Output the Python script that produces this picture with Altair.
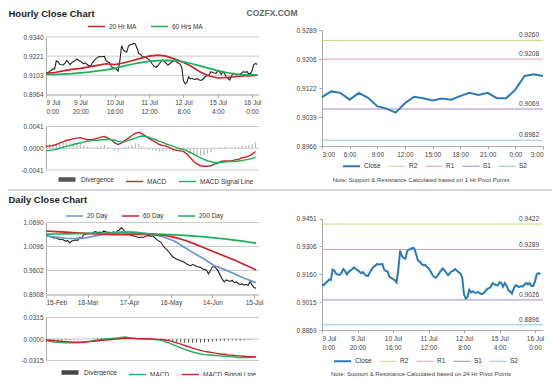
import json
import altair as alt
import pandas as pd

FONT = "Liberation Sans"
RED = "#c8262c"
GREEN = "#1fae5b"
BLUE20 = "#6a98cc"
CLOSE_BLUE = "#2a7ab9"
PIVOT_COLORS = ["#cfd47c", "#dba4ab", "#a38bc7", "#86cde4"]
GRID = "#cccccc"
AXIS = "#a8a8a8"
TXT = "#444444"

# ---------------- hourly data (9 Jul 0:00 ... 16 Jul 3:00, trading hours) ----------------
H_CLOSE = [
    0.9107, 0.9103, 0.9115, 0.9122, 0.9132, 0.9130, 0.9184, 0.9178, 0.9162, 0.9158,
    0.9157, 0.9168, 0.9187, 0.9176, 0.9159, 0.9172, 0.9180, 0.9186, 0.9196, 0.9188,
    0.9182, 0.9174, 0.9165, 0.9171, 0.9160, 0.9152, 0.9151, 0.9171, 0.9185, 0.9198,
    0.9205, 0.9213, 0.9211, 0.9212, 0.9213, 0.9185, 0.9177, 0.9174, 0.9146, 0.9141,
    0.9135, 0.9129, 0.9117, 0.9185, 0.9283, 0.9255, 0.9245, 0.9241, 0.9281, 0.9289,
    0.9292, 0.9298, 0.9294, 0.9266, 0.9233, 0.9226, 0.9215, 0.9207, 0.9209, 0.9200,
    0.9192, 0.9178, 0.9160, 0.9148, 0.9142, 0.9150, 0.9165, 0.9179, 0.9190, 0.9181,
    0.9168, 0.9155, 0.9165, 0.9175, 0.9179, 0.9187, 0.9178, 0.9170, 0.9163, 0.9142,
    0.9055, 0.9033, 0.9042, 0.9079, 0.9066, 0.9070, 0.9064, 0.9063, 0.9068, 0.9060,
    0.9056, 0.9061, 0.9072, 0.9083, 0.9087, 0.9093, 0.9113, 0.9108, 0.9104, 0.9102,
    0.9118, 0.9114, 0.9095, 0.9114, 0.9100, 0.9077, 0.9070, 0.9059, 0.9085, 0.9103,
    0.9099, 0.9093, 0.9098, 0.9095, 0.9105, 0.9114, 0.9108, 0.9114, 0.9099, 0.9099,
    0.9123, 0.9161, 0.9166, 0.9161,
]
H_MA_X = [0, 5, 10, 15, 20, 25, 30, 35, 40, 45, 50, 55, 60, 65, 70, 75, 80, 85, 90,
          95, 100, 105, 110, 115, 120, 123]
H_MA20 = [0.9103, 0.9108, 0.9118, 0.9128, 0.9135, 0.9145, 0.9155, 0.9165, 0.9160, 0.9170,
          0.9185, 0.9200, 0.9215, 0.9222, 0.9215, 0.9195, 0.9175, 0.9145, 0.9110, 0.9085,
          0.9072, 0.9075, 0.9080, 0.9085, 0.9088, 0.9090]
H_MA60 = [0.9095, 0.9095, 0.9097, 0.9100, 0.9105, 0.9110, 0.9118, 0.9125, 0.9135, 0.9150,
          0.9162, 0.9172, 0.9180, 0.9185, 0.9187, 0.9185, 0.9178, 0.9165, 0.9150, 0.9135,
          0.9120, 0.9108, 0.9098, 0.9092, 0.9092, 0.9093]
H_MACD_X = list(range(0, 124, 2))
H_MACD = [
    0.0004, 0.0004, 0.0005, 0.0007, 0.0010, 0.0012, 0.0015, 0.0016, 0.0018, 0.0019,
    0.0020, 0.0018, 0.0016, 0.0016, 0.0017, 0.0019, 0.0021, 0.0022, 0.0019, 0.0016,
    0.0010, 0.0007, 0.0010, 0.0015, 0.0019, 0.0024, 0.0028, 0.0030, 0.0027, 0.0023,
    0.0018, 0.0015, 0.0011, 0.0007, 0.0005, 0.0004, 0.0001, -0.0002, -0.0004, -0.0005,
    -0.0006, -0.0011, -0.0018, -0.0025, -0.0030, -0.0033, -0.0034, -0.0034, -0.0033, -0.0030,
    -0.0028, -0.0025, -0.0024, -0.0024, -0.0024, -0.0022, -0.0021, -0.0018, -0.0017, -0.0015,
    -0.0011, -0.0006,
]
H_SIGNAL = [
    -0.0005, -0.0004, -0.0003, -0.0002, 0.0000, 0.0002, 0.0004, 0.0005, 0.0007, 0.0009,
    0.0010, 0.0012, 0.0013, 0.0014, 0.0015, 0.0015, 0.0016, 0.0016, 0.0017, 0.0016,
    0.0015, 0.0013, 0.0012, 0.0012, 0.0015, 0.0017, 0.0019, 0.0022, 0.0023, 0.0022,
    0.0021, 0.0018, 0.0016, 0.0013, 0.0011, 0.0008, 0.0006, 0.0004, 0.0001, -0.0001,
    -0.0002, -0.0005, -0.0008, -0.0011, -0.0015, -0.0018, -0.0021, -0.0024, -0.0025, -0.0027,
    -0.0027, -0.0027, -0.0026, -0.0025, -0.0025, -0.0025, -0.0024, -0.0023, -0.0022, -0.0021,
    -0.0019, -0.0017,
]
H_XLABELS = ["9 Jul|0:00", "9 Jul|20:00", "10 Jul|16:00", "11 Jul|12:00",
             "12 Jul|8:00", "15 Jul|4:00", "16 Jul|0:00"]
H_YLABELS = ["0.8964", "0.9103", "0.9221", "0.9340"]
H_MACD_YLABELS = ["-0.0041", "0.0000", "0.0041"]

# ---------------- last 24 hours with 1-hr pivots ----------------
L24_XLABELS = ["3:00", "6:00", "9:00", "12:00", "15:00", "18:00", "21:00", "0:00", "3:00"]
L24_YLABELS = ["0.8966", "0.9039", "0.9122", "0.9206", "0.9289"]
PIV_NAMES = ["R2", "R1", "S1", "S2"]
PIV1_VALUES = [0.9260, 0.9208, 0.9069, 0.8982]

# ---------------- daily data (15 Feb ... 16 Jul, trading days) ----------------
D_CLOSE = [
    1.0390, 1.0360, 1.0345, 1.0330, 1.0305, 1.0320, 1.0290, 1.0265, 1.0280, 1.0250,
    1.0230, 1.0240, 1.0185, 1.0230, 1.0245, 1.0260, 1.0250, 1.0320, 1.0300, 1.0385,
    1.0400, 1.0410, 1.0425, 1.0410, 1.0450, 1.0465, 1.0440, 1.0450, 1.0430, 1.0475,
    1.0465, 1.0440, 1.0450, 1.0420, 1.0465, 1.0430, 1.0480, 1.0505, 1.0560, 1.0520,
    1.0450, 1.0385, 1.0400, 1.0370, 1.0360, 1.0345, 1.0330, 1.0320, 1.0330, 1.0320,
    1.0345, 1.0360, 1.0370, 1.0345, 1.0360, 1.0305, 1.0265, 1.0230, 1.0200, 1.0120,
    1.0060, 1.0020, 0.9960, 0.9900, 0.9840, 0.9810, 0.9780, 0.9760, 0.9740, 0.9730,
    0.9700, 0.9660, 0.9640, 0.9620, 0.9650, 0.9630, 0.9600, 0.9590, 0.9580, 0.9540,
    0.9530, 0.9510, 0.9420, 0.9500, 0.9590, 0.9600, 0.9550, 0.9480, 0.9380, 0.9280,
    0.9220, 0.9270, 0.9250, 0.9230, 0.9260, 0.9200, 0.9220, 0.9180, 0.9160, 0.9170,
    0.9140, 0.9160, 0.9130, 0.9230, 0.9140, 0.9080, 0.9060,
]
D_MA_X = [0, 5, 10, 15, 20, 25, 30, 35, 40, 45, 50, 55, 60, 65, 70, 75, 80, 85, 90,
          95, 100, 105, 106]
D_MA20 = [1.0360, 1.0330, 1.0300, 1.0290, 1.0310, 1.0360, 1.0410, 1.0440, 1.0465, 1.0450,
          1.0420, 1.0390, 1.0320, 1.0224, 1.0070, 0.9920, 0.9780, 0.9620, 0.9530, 0.9420,
          0.9310, 0.9220, 0.9210]
D_MA60 = [1.0480, 1.0465, 1.0450, 1.0435, 1.0420, 1.0405, 1.0395, 1.0390, 1.0390, 1.0395,
          1.0395, 1.0390, 1.0370, 1.0320, 1.0250, 1.0160, 1.0060, 0.9960, 0.9860, 0.9760,
          0.9650, 0.9540, 0.9520]
D_MA200 = [1.0400, 1.0405, 1.0410, 1.0415, 1.0420, 1.0425, 1.0430, 1.0430, 1.0430, 1.0425,
           1.0415, 1.0405, 1.0395, 1.0385, 1.0370, 1.0355, 1.0335, 1.0310, 1.0285, 1.0255,
           1.0225, 1.0185, 1.0175]
D_MACD_X = list(range(0, 107, 2))
D_MACD = [
    -0.0024, -0.0033, -0.0043, -0.0048, -0.0052, -0.0057, -0.0057, -0.0057, -0.0052, -0.0048,
    -0.0038, -0.0033, -0.0024, -0.0014, -0.0005, 0.0000, 0.0005, 0.0010, 0.0014, 0.0024,
    0.0029, 0.0019, 0.0010, 0.0005, 0.0000, 0.0000, -0.0005, -0.0005, -0.0010, -0.0019,
    -0.0038, -0.0057, -0.0081, -0.0105, -0.0129, -0.0153, -0.0172, -0.0191, -0.0205, -0.0219,
    -0.0229, -0.0234, -0.0239, -0.0243, -0.0248, -0.0253, -0.0258, -0.0262, -0.0267, -0.0272,
    -0.0272, -0.0272, -0.0267, -0.0262,
]
D_SIGNAL = [
    -0.0014, -0.0019, -0.0024, -0.0029, -0.0033, -0.0038, -0.0043, -0.0048, -0.0048, -0.0048,
    -0.0043, -0.0038, -0.0033, -0.0029, -0.0019, -0.0014, -0.0010, -0.0005, 0.0000, 0.0005,
    0.0010, 0.0010, 0.0010, 0.0005, 0.0005, 0.0005, 0.0000, 0.0000, -0.0005, -0.0005,
    -0.0014, -0.0024, -0.0038, -0.0057, -0.0076, -0.0095, -0.0114, -0.0134, -0.0153, -0.0167,
    -0.0181, -0.0191, -0.0200, -0.0210, -0.0219, -0.0224, -0.0234, -0.0239, -0.0243, -0.0248,
    -0.0253, -0.0258, -0.0258, -0.0262,
]
D_XLABELS = ["15-Feb", "18-Mar", "17-Apr", "16-May", "14-Jun", "15-Jul"]
D_YLABELS = ["0.8908", "0.9602", "1.0096", "1.0690"]
D_MACD_YLABELS = ["-0.0315", "0.0000", "0.0315"]

# ---------------- 5 days hourly with 24-hr pivots ----------------
F_YLABELS = ["0.8869", "0.9015", "0.9160", "0.9306", "0.9451"]
PIV24_VALUES = [0.9422, 0.9289, 0.9026, 0.8896]

NOTE1 = "Note: Support & Resistance Calculated based on 1 Hr Pivot Points"
NOTE24 = "Note: Support & Resistance Calculated based on 24 Hr Pivot Points"

# ---------------- layout (pixel boxes of each panel inside one 544x368 view) ----------------
W, H = 544, 368
LX = (38, 251)
RX = (314, 535)
HP_Y = (29, 86.5)
HM_Y = (118.5, 162)
TR_Y = (22, 138)
DP_Y = (214.5, 286.5)
DM_Y = (309.5, 352.5)
BR_Y = (210.5, 322)


# ---------------- helpers ----------------
def tick_values(labels):
    lo, hi = float(labels[0]), float(labels[-1])
    step = (hi - lo) / (len(labels) - 1)
    return lo, step, [lo + k * step for k in range(len(labels))]


def y_scale(labels, ybox):
    return alt.Scale(domain=[float(labels[0]), float(labels[-1])], range=[ybox[1], ybox[0]],
                     nice=False, zero=False)


def x_scale(dom, xbox):
    return alt.Scale(domain=list(dom), range=list(xbox), nice=False, zero=False)


def y_axis(labels, x0, ticks, **title_kw):
    lo, step, vals = tick_values(labels)
    expr = f"{json.dumps(labels)}[round((datum.value - ({lo})) / {step})]"
    kw = dict(orient="left", offset=-x0, values=vals, labelExpr=expr, grid=False,
              domain=True, domainColor=AXIS, ticks=ticks, tickColor=AXIS, tickSize=3,
              labelFontSize=6.5, labelColor=TXT, labelPadding=3, labelOverlap=False)
    if title_kw:
        kw.update(titleAngle=0, titleAlign="left", titleBaseline="top", **title_kw)
    else:
        kw["title"] = None
    return alt.Axis(**kw)


def x_axis(labels, step, y1, multiline=False, **title_kw):
    core = f"{json.dumps(labels)}[round(datum.value / {step})]"
    expr = f"split({core}, '|')" if multiline else core
    vals = [k * step for k in range(len(labels))]
    kw = dict(orient="bottom", offset=y1 - H, values=vals, labelExpr=expr, grid=False,
              domain=True, domainColor=AXIS, ticks=True, tickColor=AXIS, tickSize=3,
              labelFontSize=6.5, labelColor=TXT, labelPadding=2, labelLineHeight=9,
              labelAngle=0, labelOverlap=False)
    if title_kw:
        kw.update(titleAlign="center", titleBaseline="middle", titleFontSize=6,
                  titleFontWeight="normal", titleColor=TXT, **title_kw)
    else:
        kw["title"] = None
    return alt.Axis(**kw)


def legend(x, y_center, col_pad=11):
    # entries are 17px tall (stroke symbol size 289), so shift up by half of that
    return alt.Legend(orient="none", legendX=x, legendY=y_center - 8.5, direction="horizontal",
                      symbolType="stroke", symbolSize=289, labelFontSize=6.5,
                      labelColor="#333", columnPadding=col_pad, labelOffset=3,
                      padding=0, rowPadding=0, title=None)


PANEL_TITLE = dict(titleFontSize=9.5, titleFontWeight="bold", titleColor="#222")


def price_panel(xs_vals, close_vals, ma_x, ma_lists, ma_names, ma_colors, xdom, xlabels,
                xstep, multiline, ylabels, ybox, lg, title, title_y):
    xs = x_scale(xdom, LX)
    ys = y_scale(ylabels, ybox)
    xa = x_axis(xlabels, xstep, ybox[1], multiline)
    ya = y_axis(ylabels, LX[0], False, title=title, titleX=-LX[0], titleY=title_y, **PANEL_TITLE)
    X = alt.X("x:Q", scale=xs, axis=xa)
    Y = alt.Y("v:Q", scale=ys, axis=ya)
    grid = pd.DataFrame({"x": xdom[0], "xe": xdom[1], "v": tick_values(ylabels)[2]})
    cdf = pd.DataFrame({"x": xs_vals, "v": close_vals})
    mdf = pd.DataFrame({
        "x": [x for _ in ma_lists for x in ma_x],
        "v": [v for vals in ma_lists for v in vals],
        "series": [n for n in ma_names for _ in ma_x],
    })
    return alt.layer(
        alt.Chart(grid).mark_rule(color=GRID, strokeWidth=1).encode(x=X, x2="xe:Q", y=Y),
        alt.Chart(cdf).mark_line(color="#222", strokeWidth=1.1).encode(x=X, y=Y),
        alt.Chart(mdf).mark_line(strokeWidth=1.7).encode(
            x=X, y=Y,
            color=alt.Color("series:N", scale=alt.Scale(domain=ma_names, range=ma_colors),
                            legend=lg)),
    )


M_DOM = ["Divergence", "MACD", "MACD Signal Line"]


def macd_panel(xs_vals, macd, signal, xdom, ylabels, ybox, bar_color, colors, lg):
    xs = x_scale(xdom, LX)
    ys = y_scale(ylabels, ybox)
    ya = y_axis(ylabels, LX[0], False)
    X = alt.X("x:Q", scale=xs, axis=None)
    Y = alt.Y("v:Q", scale=ys, axis=ya)
    grid = pd.DataFrame({"x": xdom[0], "xe": xdom[1], "v": tick_values(ylabels)[2]})
    bars = pd.DataFrame({"x": xs_vals, "v": [m - s for m, s in zip(macd, signal)]})
    lines = pd.DataFrame({
        "x": list(xs_vals) * 2,
        "v": list(macd) + list(signal),
        "series": ["MACD"] * len(xs_vals) + ["MACD Signal Line"] * len(xs_vals),
    })
    return alt.layer(
        alt.Chart(grid).mark_rule(color=GRID, strokeWidth=1).encode(x=X, x2="xe:Q", y=Y),
        alt.Chart(bars).mark_rule(color=bar_color, strokeWidth=1).encode(x=X, y=Y, y2=alt.datum(0)),
        alt.Chart(lines).mark_line().encode(
            x=X, y=Y,
            color=alt.Color("series:N", scale=alt.Scale(domain=M_DOM, range=colors), legend=lg),
            strokeWidth=alt.StrokeWidth("series:N",
                                        scale=alt.Scale(type="ordinal", domain=M_DOM,
                                                        range=[4.5, 1.4, 1.4]),
                                        legend=lg)),
    )


P_DOM = ["Close"] + PIV_NAMES
P_RANGE = [CLOSE_BLUE] + PIVOT_COLORS
P_WIDTH = [2.0, 1.0, 1.0, 1.0, 1.0]


def pivot_panel(xs_vals, close_vals, xdom, xlabels, xstep, multiline, ylabels, ybox,
                piv_values, lg, note, note_y, y_title=None):
    xs = x_scale(xdom, RX)
    ys = y_scale(ylabels, ybox)
    xa = x_axis(xlabels, xstep, ybox[1], multiline, title=note, titleX=(RX[0] + RX[1]) / 2 - 12,
                titleY=note_y)
    if y_title:
        ya = y_axis(ylabels, RX[0], True, title=y_title, titleX=238 - RX[0], titleY=0,
                    titleFontSize=8.5, titleFontWeight="bold", titleColor="#666")
    else:
        ya = y_axis(ylabels, RX[0], True)
    X = alt.X("x:Q", scale=xs, axis=xa)
    Y = alt.Y("v:Q", scale=ys, axis=ya)
    col = alt.Color("series:N", scale=alt.Scale(domain=P_DOM, range=P_RANGE), legend=lg)
    sw = alt.StrokeWidth("series:N", scale=alt.Scale(type="ordinal", domain=P_DOM, range=P_WIDTH),
                         legend=lg)
    piv = pd.DataFrame({"series": PIV_NAMES, "v": piv_values, "x": xdom[0], "xe": xdom[1]})
    cdf = pd.DataFrame({"x": xs_vals, "v": close_vals, "series": "Close"})
    return alt.layer(
        alt.Chart(piv).mark_rule().encode(x=X, x2="xe:Q", y=Y, color=col, strokeWidth=sw),
        alt.Chart(cdf).mark_line().encode(x=X, y=Y, color=col, strokeWidth=sw),
        alt.Chart(piv).mark_text(align="right", baseline="bottom", dx=-4, dy=-2,
                                 fontSize=6.5, color=TXT).encode(
            x="xe:Q", y=Y, text=alt.Text("v:Q", format=".4f")),
    )


hour_idx = list(range(len(H_CLOSE)))
day_idx = list(range(len(D_CLOSE)))

hp = price_panel(hour_idx, H_CLOSE, H_MA_X, [H_MA20, H_MA60], ["20 Hr MA", "60 Hrs MA"],
                 [RED, GREEN], (0, 124), H_XLABELS, 20, True, H_YLABELS, HP_Y,
                 legend(79, 17.5), "Hourly Close Chart", 0)
hm = macd_panel(H_MACD_X, H_MACD, H_SIGNAL, (0, 124), H_MACD_YLABELS, HM_Y, "#b0b0b0",
                ["#555555", RED, GREEN], legend(48, 169, 9))
tr = pivot_panel(list(range(25)), H_CLOSE[-25:], (0, 24), L24_XLABELS, 3, False, L24_YLABELS,
                 TR_Y, PIV1_VALUES, legend(334, 157, 5), NOTE1, 33, y_title="COZFX.COM")
dp = price_panel(day_idx, D_CLOSE, D_MA_X, [D_MA20, D_MA60, D_MA200],
                 ["20 Day", "60 Day", "200 Day"], [BLUE20, RED, GREEN], (0, 107.5), D_XLABELS,
                 21, False, D_YLABELS, DP_Y, legend(57, 207), "Daily Close Chart", 186)
dm = macd_panel(D_MACD_X, D_MACD, D_SIGNAL, (0, 107.5), D_MACD_YLABELS, DM_Y, "#555555",
                ["#444444", GREEN, RED], legend(51, 362, 9))
br = pivot_panel(hour_idx, H_CLOSE, (0, 124.5), H_XLABELS, 20, True, F_YLABELS, BR_Y,
                 PIV24_VALUES, legend(325, 352, 5), NOTE24, 43.5)

sep = alt.Chart(pd.DataFrame({"a": [0]})).mark_rule(color="#c8c8c8", strokeWidth=1.5).encode(
    x=alt.value(0), x2=alt.value(W), y=alt.value(182))

chart = alt.layer(hp, hm, tr, dp, dm, br, sep).resolve_scale(
    x="independent", y="independent", color="independent", strokeWidth="independent"
).properties(
    width=W, height=H, padding=0, autosize=alt.AutoSizeParams(type="none")
).configure(font=FONT).configure_view(stroke=None)

chart.save("out.html", embed_options={"renderer": "svg", "actions": False})
